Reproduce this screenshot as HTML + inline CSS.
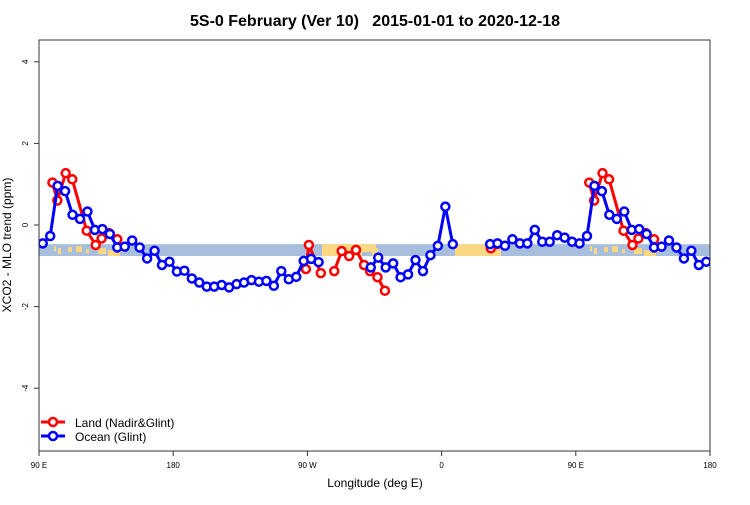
<!DOCTYPE html>
<html><head><meta charset="utf-8"><style>
body{margin:0;background:#fff}
svg{font-family:"Liberation Sans",sans-serif}
</style></head><body>
<svg id="chart" width="750" height="500">
<text x="375" y="26" text-anchor="middle" font-size="16" font-weight="bold" style="white-space:pre">5S-0 February (Ver 10)   2015-01-01 to 2020-12-18</text>
<defs><clipPath id="pc"><rect x="39" y="40" width="671" height="411"/></clipPath></defs>
<g id="band"></g>
<g id="marks" clip-path="url(#pc)"></g>
<rect x="39" y="40" width="671" height="411" fill="none" stroke="#333" stroke-width="1"/>
<g id="axes"></g>
<text x="375" y="487" text-anchor="middle" font-size="12">Longitude (deg E)</text>
<text transform="translate(11,245) rotate(-90)" text-anchor="middle" font-size="12">XCO2 - MLO trend (ppm)</text>
<g>
<line x1="41" y1="422" x2="65" y2="422" stroke="red" stroke-width="3"/>
<circle cx="53" cy="422" r="4" fill="#fff" stroke="red" stroke-width="2.5"/>
<text x="75" y="427" font-size="12">Land (Nadir&amp;Glint)</text>
<line x1="41" y1="436" x2="65" y2="436" stroke="blue" stroke-width="3"/>
<circle cx="53" cy="436" r="4" fill="#fff" stroke="blue" stroke-width="2.5"/>
<text x="75" y="441" font-size="12">Ocean (Glint)</text>
</g>
</svg>
<script>
const xTickVals=[90,180,270,360,450,540];
const xTickLabels=["90 E","180","90 W","0","90 E","180"];
const yTickVals=[-4,-2,0,2,4];
const oceanLon0=92.5, oceanStep=5;
const oceanVals=[-0.45,-0.27,0.96,0.83,0.25,0.15,0.33,-0.12,-0.10,-0.22,-0.55,-0.53,-0.38,-0.55,-0.82,-0.63,-0.98,-0.90,-1.14,-1.12,-1.31,-1.41,-1.51,-1.51,-1.47,-1.53,-1.45,-1.41,-1.35,-1.39,-1.37,-1.49,-1.13,-1.33,-1.27,-0.88,-0.83,-0.91,null,null,null,null,null,null,-1.04,-0.80,-1.04,-0.94,-1.28,-1.21,-0.86,-1.13,-0.74,-0.51,0.45,-0.47,null,null,null,null,-0.47,-0.45,-0.51,-0.35,-0.45,-0.45,-0.12,-0.41,-0.41,-0.25,-0.31,-0.41];
const landSeg1Lon=[99,102.3,107.9,112.3,122,128,132,137,142.5];
const landSeg1Val=[1.04,0.60,1.27,1.12,-0.14,-0.49,-0.33,-0.2,-0.35];
const landSeg2Lon=[269,271,279];
const landSeg2Val=[-1.08,-0.49,-1.18];
const landSeg3Lon=[288,293,298,302.6,308,312,317,322];
const landSeg3Val=[-1.13,-0.64,-0.76,-0.61,-0.98,-1.13,-1.28,-1.61];
const landSeg4Lon=[393,397];
const landSeg4Val=[-0.57,-0.47];
const bandLow=-0.76, bandHigh=-0.47;
const NS="http://www.w3.org/2000/svg";
const X=l=>39+(l-90)*671/450;
const Y=v=>225-v*40.8;
function mk(t,a,p){const e=document.createElementNS(NS,t);for(const k in a)e.setAttribute(k,a[k]);(p||document.getElementById('marks')).appendChild(e);return e;}
const band=document.getElementById('band');
const b=mk('rect',{x:39.5,y:Y(bandHigh),width:670,height:Y(bandLow)-Y(bandHigh),fill:'#a7bedc'},band);


const bh=Y(bandLow)-Y(bandHigh);
const land=[[54,2,2,5],[58,3,4,6],[68,4,3,5],[76,6,2,6],[86,3,5,4],[98,8,4,6],[108,12,6,6],[120,4,3,5],[322,40,0,12],[362,14,0,8],[372,6,4,8],[455,46,0,12],[590,2,2,5],[594,3,4,6],[604,4,3,5],[612,6,2,6],[622,3,5,4],[634,8,4,6],[644,12,6,6],[656,4,3,5]];
land.forEach(r=>{const e=mk('rect',{x:r[0],y:Y(bandHigh)+r[2],width:r[1],height:Math.min(r[3],bh-r[2]),fill:'#fdd882'},band);

});
const ax=document.getElementById('axes');
xTickVals.forEach((v,i)=>{mk('line',{x1:X(v),x2:X(v),y1:451,y2:456,stroke:'#333'},ax);
const t=mk('text',{x:X(v),y:468,'font-size':8,'text-anchor':'middle'},ax);t.textContent=xTickLabels[i];

});
yTickVals.forEach(v=>{mk('line',{x1:34,x2:39,y1:Y(v),y2:Y(v),stroke:'#333'},ax);
const t=mk('text',{transform:`translate(28,${Y(v)}) rotate(-90)`,'font-size':8,'text-anchor':'middle'},ax);t.textContent=v;

});
function series(pts,col,name){
 let segs=[],cur=[];pts.forEach(p=>{if(p[1]==null){if(cur.length)segs.push(cur);cur=[];}else cur.push(p);});if(cur.length)segs.push(cur);
 segs.forEach(s=>{const l=mk('polyline',{points:s.map(p=>X(p[0])+','+Y(p[1])).join(' '),fill:'none',stroke:col,'stroke-width':3,'stroke-linejoin':'round'});
 
 });
 segs.forEach(s=>s.forEach(p=>{const c=mk('circle',{cx:X(p[0]),cy:Y(p[1]),r:4,fill:'#fff',stroke:col,'stroke-width':2.5});
 
 }));
}
const landSegs=[[landSeg1Lon,landSeg1Val],[landSeg2Lon,landSeg2Val],[landSeg3Lon,landSeg3Val],[landSeg4Lon,landSeg4Val]];
landSegs.forEach(([L,V])=>{[0,360].forEach(off=>{const pts=L.map((l,i)=>[l+off,V[i]]).filter(p=>p[0]>=90&&p[0]<=540);if(pts.length)series(pts,'red','land');});});
const op=[];for(let i=0;i<90;i++){op.push([oceanLon0+oceanStep*i,oceanVals[i%oceanVals.length]]);}
series(op,'blue','ocean');
</script>
</body></html>
